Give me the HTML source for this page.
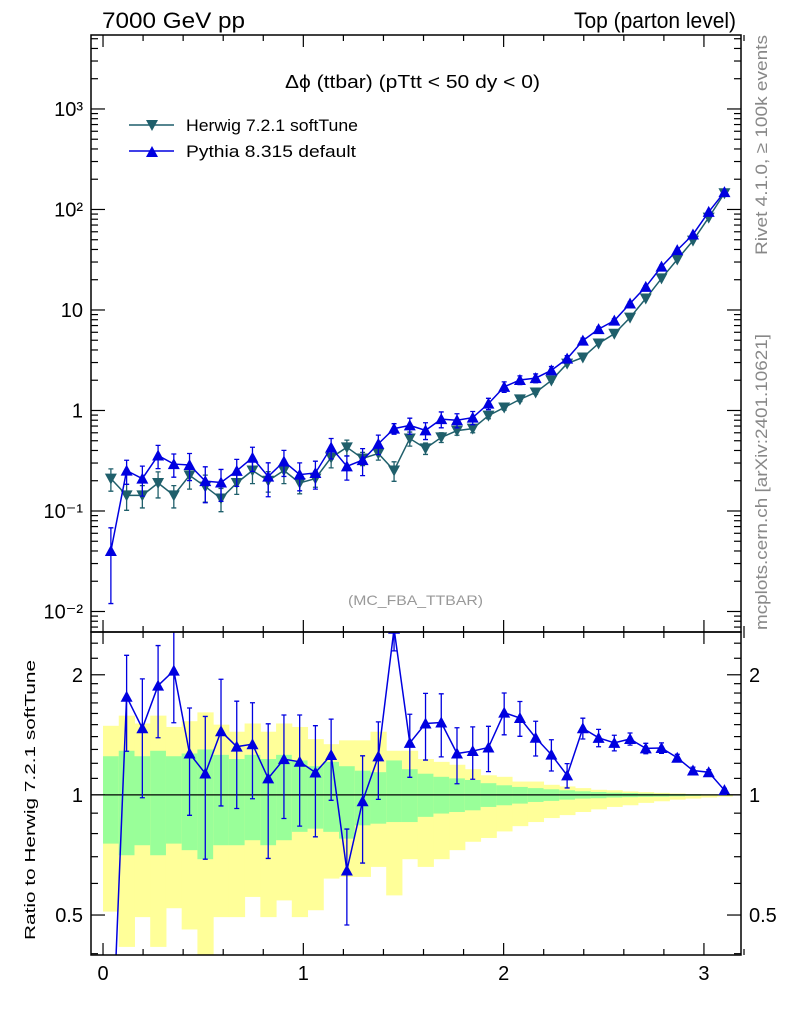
<!DOCTYPE html>
<html><head><meta charset="utf-8"><style>
html,body{margin:0;padding:0;background:#fff;width:786px;height:1024px;overflow:hidden;}
svg{display:block;font-family:"Liberation Sans",sans-serif;}
</style></head><body>
<svg id="chart" width="786" height="1024" viewBox="0 0 786 1024" xmlns="http://www.w3.org/2000/svg">
<text x="102" y="28" font-size="22" textLength="143" lengthAdjust="spacingAndGlyphs">7000 GeV pp</text>
<text x="574" y="28" font-size="22" textLength="162" lengthAdjust="spacingAndGlyphs">Top (parton level)</text>
<text x="285" y="88" font-size="18" textLength="255" lengthAdjust="spacingAndGlyphs">Δϕ (ttbar) (pTtt &lt; 50 dy &lt; 0)</text>
<text x="348" y="605" font-size="14" fill="#999" textLength="135" lengthAdjust="spacingAndGlyphs">(MC_FBA_TTBAR)</text>
<text transform="translate(767,255) rotate(-90)" font-size="17" fill="#888" textLength="220" lengthAdjust="spacingAndGlyphs">Rivet 4.1.0, ≥ 100k events</text>
<text transform="translate(767,630) rotate(-90)" font-size="17" fill="#888" textLength="296" lengthAdjust="spacingAndGlyphs">mcplots.cern.ch [arXiv:2401.10621]</text>
<text transform="translate(35,940) rotate(-90)" font-size="15" textLength="280" lengthAdjust="spacingAndGlyphs">Ratio to Herwig 7.2.1 softTune</text>
<g>
<line x1="129" y1="125" x2="174" y2="125" stroke="#1f5f6b" stroke-width="1.5"/>
<path d="M146,120 L158,120 L152,131 Z" fill="#1f5f6b"/>
<text x="186" y="131" font-size="17" textLength="172" lengthAdjust="spacingAndGlyphs">Herwig 7.2.1 softTune</text>
<line x1="129" y1="151" x2="174" y2="151" stroke="#0000e0" stroke-width="1.5"/>
<path d="M146,157 L158,157 L152,146 Z" fill="#0000e0"/>
<text x="186" y="157" font-size="17" textLength="170" lengthAdjust="spacingAndGlyphs">Pythia 8.315 default</text>
</g>
</svg>
<script>
const herwig=[0.21,0.143,0.143,0.19,0.143,0.226,0.175,0.133,0.19,0.253,0.20,0.253,0.19,0.21,0.34,0.43,0.333,0.373,0.253,0.526,0.42,0.54,0.63,0.66,0.89,1.07,1.29,1.51,1.99,2.93,3.37,4.64,5.8,8.4,13.0,20.6,31.8,49,83,145];
const pythia=[0.04,0.252,0.21,0.357,0.293,0.287,0.198,0.192,0.251,0.339,0.22,0.311,0.23,0.239,0.428,0.278,0.321,0.466,0.66,0.71,0.634,0.82,0.80,0.85,1.17,1.72,2.01,2.10,2.51,3.28,4.95,6.45,7.83,11.6,17.0,27.0,39.4,56.4,94.6,149];
const pythiaRelErr=[0.7,0.27,0.33,0.26,0.26,0.3,0.39,0.35,0.3,0.27,0.37,0.29,0.31,0.31,0.23,0.27,0.3,0.22,0.12,0.18,0.19,0.18,0.16,0.15,0.13,0.12,0.1,0.1,0.09,0.07,0.06,0.05,0.045,0.035,0.03,0.03,0.02,0.02,0.015,0.01];
const greenHi=[1.25,1.29,1.25,1.29,1.25,1.27,1.30,1.26,1.23,1.26,1.23,1.26,1.22,1.18,1.21,1.18,1.15,1.14,1.22,1.16,1.13,1.11,1.10,1.09,1.07,1.057,1.047,1.04,1.033,1.027,1.021,1.017,1.013,1.011,1.008,1.006,1.005,1.004,1.003,1.002];
const greenLo=[0.755,0.706,0.748,0.706,0.755,0.727,0.69,0.748,0.748,0.77,0.748,0.77,0.808,0.823,0.808,0.777,0.839,0.847,0.855,0.855,0.881,0.898,0.906,0.915,0.933,0.942,0.951,0.96,0.966,0.973,0.979,0.981,0.985,0.987,0.989,0.99,0.992,0.994,0.996,0.996];
const yellowHi=[1.49,1.58,1.51,1.58,1.48,1.53,1.61,1.50,1.44,1.51,1.44,1.51,1.48,1.38,1.34,1.37,1.37,1.44,1.29,1.29,1.23,1.21,1.19,1.16,1.12,1.11,1.08,1.08,1.06,1.05,1.04,1.03,1.027,1.02,1.016,1.012,1.008,1.004,1.003,1.002];
const yellowLo=[0.51,0.416,0.494,0.416,0.52,0.46,0.38,0.494,0.494,0.555,0.494,0.544,0.494,0.514,0.617,0.623,0.623,0.66,0.56,0.69,0.66,0.69,0.727,0.763,0.78,0.81,0.835,0.855,0.875,0.89,0.906,0.92,0.933,0.942,0.955,0.964,0.973,0.979,0.985,0.99];
const xTicks=[0,1,2,3];
const mainTicks=[-2,-1,0,1,2,3];
const mainTickLabels=["10⁻²","10⁻¹","1","10","10²","10³"];
const ratioTicks=[0.5,1,2];
const ratioTickLabels=["0.5","1","2"];

const NS="http://www.w3.org/2000/svg";
const svg=document.getElementById('chart');
const L=91,R=741,T=35,M=632,B=955;
const XMIN=-0.06,XMAX=3.185;
const sx=v=>L+(v-XMIN)/(XMAX-XMIN)*(R-L);
const LMAX=3.736,LMIN=-2.204;
const sy=v=>T+(LMAX-Math.log10(v))/(LMAX-LMIN)*(M-T);
const RMAX=Math.log2(2.56),RMIN=Math.log2(0.397);
const ry=v=>M+(RMAX-Math.log2(v))/(RMAX-RMIN)*(B-M);
const N=herwig.length, W=Math.PI/N;
function el(tag,attrs,parent){const e=document.createElementNS(NS,tag);for(const k in attrs)e.setAttribute(k,attrs[k]);(parent||svg).appendChild(e);return e;}
const defs=el('defs',{});
const c1=el('clipPath',{id:'cm'},defs);el('rect',{x:L,y:T,width:R-L,height:M-T},c1);
const c2=el('clipPath',{id:'cr'},defs);el('rect',{x:L,y:M,width:R-L,height:B-M},c2);

const bands=el('g',{'clip-path':'url(#cr)'});


for(let i=0;i<N;i++){
  const x0=sx(i*W),x1=sx((i+1)*W);
  const y=el('rect',{x:x0,y:ry(yellowHi[i]),width:x1-x0+0.5,height:ry(yellowLo[i])-ry(yellowHi[i]),fill:'#ffff99'},bands);
  
  
  const g=el('rect',{x:x0,y:ry(greenHi[i]),width:x1-x0+0.5,height:ry(greenLo[i])-ry(greenHi[i]),fill:'#99ff99'},bands);
  
  
}
el('line',{x1:L,y1:ry(1),x2:R,y2:ry(1),stroke:'#000','stroke-width':1.3});

function series(parent,vals,errs,color,down,yf,name){
  const g=el('g',{'clip-path':parent});
  
  
  let d='';
  vals.forEach((v,i)=>{d+=(i?'L':'M')+sx((i+0.5)*W)+','+yf(v);});
  el('path',{d:d,fill:'none',stroke:color,'stroke-width':1.5},g);
  vals.forEach((v,i)=>{
    const x=sx((i+0.5)*W),y=yf(v);
    const lo=Math.max(v-errs[i],1e-4),hi=v+errs[i];
    const y1=yf(hi),y2=yf(lo);
    el('path',{d:`M${x},${y1}L${x},${y2}M${x-2.5},${y1}L${x+2.5},${y1}M${x-2.5},${y2}L${x+2.5},${y2}`,stroke:color,'stroke-width':1.3,fill:'none'},g);
    const m=el('path',{d:down?`M${x-6},${y-5}L${x+6},${y-5}L${x},${y+6}Z`:`M${x-6},${y+5}L${x+6},${y+5}L${x},${y-6}Z`,fill:color},g);
    
    
  });
}
const hErr=herwig.map((v,i)=>v*(greenHi[i]-1));
const pErr=pythia.map((v,i)=>v*pythiaRelErr[i]);
series('url(#cm)',herwig,hErr,'#1f5f6b',true,sy,'herwig-series');
series('url(#cm)',pythia,pErr,'#0000e0',false,sy,'pythia-series');
const ratio=pythia.map((v,i)=>v/herwig[i]);
const rErr=ratio.map((v,i)=>v*pythiaRelErr[i]);
series('url(#cr)',ratio,rErr,'#0000e0',false,ry,'ratio-pythia-series');

const fr=el('g',{fill:'none',stroke:'#000','stroke-width':1.5});
el('rect',{x:L,y:T,width:R-L,height:M-T},fr);
el('rect',{x:L,y:M,width:R-L,height:B-M},fr);
const ax=el('g',{stroke:'#000','stroke-width':1.2});
for(let k=0;k<=16;k++){
  const v=k*0.2, x=sx(v), major=Math.abs(v-Math.round(v))<1e-6, len=major?12:6;
  [T,M].forEach(y=>el('line',{x1:x,y1:y,x2:x,y2:y+len},ax));
  [M,B].forEach(y=>el('line',{x1:x,y1:y,x2:x,y2:y-len},ax));
}
xTicks.forEach(v=>{const t=el('text',{x:sx(v),y:980,'font-size':20,'text-anchor':'middle'});t.textContent=v;

});
for(let d=-3;d<=3;d++){for(let m=1;m<10;m++){const v=m*Math.pow(10,d);const y=sy(v);if(y<T||y>M)continue;const len=m===1?14:7;
el('line',{x1:L,y1:y,x2:L+len,y2:y},ax);el('line',{x1:R,y1:y,x2:R-len,y2:y},ax);}}
mainTicks.forEach((p,i)=>{const t=el('text',{x:83,y:sy(Math.pow(10,p))+7,'font-size':20,'text-anchor':'end'});t.textContent=mainTickLabels[i];

});
[0.4,0.5,0.6,0.7,0.8,0.9,1,1.1,1.2,1.3,1.4,1.5,1.6,1.7,1.8,1.9,2,2.2,2.4].forEach(v=>{const y=ry(v);if(y<M||y>B)return;const len=(v===0.5||v===1||v===2)?14:7;
el('line',{x1:L,y1:y,x2:L+len,y2:y},ax);el('line',{x1:R,y1:y,x2:R-len,y2:y},ax);});
ratioTicks.forEach((v,i)=>{
const t=el('text',{x:83,y:ry(v)+7,'font-size':20,'text-anchor':'end'});t.textContent=ratioTickLabels[i];


const t2=el('text',{x:749,y:ry(v)+7,'font-size':20});t2.textContent=ratioTickLabels[i];

});
</script>
</body></html>
